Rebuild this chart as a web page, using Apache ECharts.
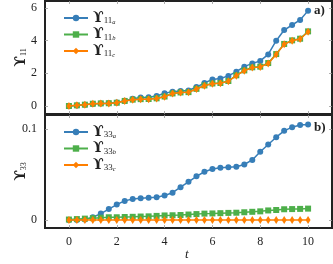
<!DOCTYPE html>
<html><head><meta charset="utf-8">
<script src="https://cdn.jsdelivr.net/npm/echarts@6/dist/echarts.min.js"></script>
<style>html,body{margin:0;padding:0;background:#fff}#c{width:333px;height:264px}</style>
</head><body><div id="c"></div>
<script>
const tValues = [0,0.333,0.667,1,1.333,1.667,2,2.333,2.667,3,3.333,3.667,4,4.333,4.667,5,5.333,5.667,6,6.333,6.667,7,7.333,7.667,8,8.333,8.667,9,9.333,9.667,10];
const u11a = [0,0.03,0.07,0.13,0.16,0.17,0.21,0.32,0.45,0.52,0.53,0.61,0.78,0.88,0.92,0.95,1.16,1.41,1.63,1.69,1.84,2.10,2.41,2.61,2.76,3.16,4.00,4.65,4.96,5.27,5.84];
const u11b = [0,0.04,0.08,0.14,0.16,0.17,0.20,0.31,0.39,0.42,0.43,0.47,0.58,0.77,0.83,0.85,1.05,1.26,1.38,1.41,1.53,1.88,2.18,2.37,2.41,2.63,3.18,3.80,4.02,4.12,4.57];
const u11c = [0,0.04,0.08,0.14,0.16,0.16,0.20,0.30,0.38,0.42,0.42,0.46,0.57,0.76,0.82,0.84,1.04,1.24,1.37,1.40,1.52,1.86,2.16,2.35,2.39,2.61,3.16,3.78,4.00,4.10,4.55];
const u33a = [0,0,0.0005,0.003,0.007,0.012,0.017,0.021,0.023,0.024,0.0245,0.025,0.027,0.030,0.036,0.042,0.048,0.053,0.056,0.0575,0.058,0.0585,0.061,0.066,0.075,0.083,0.091,0.098,0.102,0.1045,0.105];
const u33b = [0.0005,0.001,0.0015,0.002,0.0025,0.003,0.003,0.0033,0.0035,0.0038,0.004,0.0045,0.005,0.0052,0.0055,0.006,0.0065,0.007,0.0072,0.0075,0.0078,0.008,0.0085,0.009,0.0095,0.0105,0.011,0.0118,0.012,0.0122,0.0125];
const u33c = [0,0,0,0,0,0,0,0,0,0,0,0,0,0,0,0,0,0,0,0,0,0,0,0,0,0,0,0,0,0,0];
const xTicks = [0,2,4,6,8,10];
const yTicksTop = [0,2,4,6];
const yTicksBottom = [0,0.1];

const BLUE='#377eb8', GREEN='#4daf4a', ORANGE='#ff7f00';
const SERIF='Liberation Serif';
const GREEK='DejaVu Serif';
function pts(arr){return tValues.map((t,i)=>[t,arr[i]]);}
const tick = {show:true,inside:true,length:3,lineStyle:{color:'#999',width:0.8}};
function xAx(grid,pos,labels){
  return {type:'value',gridIndex:grid,position:pos,min:-1,max:11,
    axisLine:{show:false,onZero:false},splitLine:{show:false},
    axisTick:Object.assign({},tick,{customValues:xTicks}),
    axisLabel:{show:labels,customValues:xTicks,fontFamily:SERIF,fontSize:12,color:'#222',margin:8}};
}
function yAx(grid,pos,min,max,ticks,labels,name){
  const a={type:'value',gridIndex:grid,position:pos,min:min,max:max,
    axisLine:{show:false,onZero:false},splitLine:{show:false},
    axisTick:Object.assign({},tick,{customValues:ticks}),
    axisLabel:{show:labels,customValues:ticks,fontFamily:SERIF,fontSize:12,color:'#222',margin:8}};
  if(name){
    a.name=name;a.nameLocation='middle';a.nameGap=17;a.nameRotate=90;a.nameMoveOverlap=false;
    a.nameTextStyle={rich:{u:{fontFamily:GREEK,fontWeight:'bold',fontSize:14,color:'#222'},s:{fontFamily:SERIF,fontSize:8,color:'#222',verticalAlign:'bottom',lineHeight:8}}};
  }
  return a;
}
const rich={u:{fontFamily:GREEK,fontWeight:'bold',fontSize:14,color:'#222',lineHeight:15},
  s:{fontFamily:SERIF,fontSize:9,color:'#222',verticalAlign:'bottom',lineHeight:9},
  ss:{fontFamily:SERIF,fontStyle:'italic',fontSize:6.5,color:'#222',verticalAlign:'bottom',lineHeight:5}};
const labelMap={a11:['11','a'],b11:['11','b'],c11:['11','c'],a33:['33','a'],b33:['33','b'],c33:['33','c']};
function fmt(n){const m=labelMap[n];return '{u|ϒ}{s|'+m[0]+'}{ss|'+m[1]+'}';}
function ser(name,data,xi,yi,color,sym,size,z){
  return {name:name,type:'line',xAxisIndex:xi,yAxisIndex:yi,data:pts(data),color:color,
    symbol:sym,symbolSize:size,showSymbol:true,z:z,animation:false,
    lineStyle:{width:1.5,color:color},itemStyle:{color:color}};
}
const chart=echarts.init(document.getElementById('c'),null,{renderer:'canvas'});
chart.setOption({
  animation:false,
  grid:[
    {left:45,right:1,top:1,height:113,show:true,borderColor:'#222',borderWidth:2,backgroundColor:'transparent',containLabel:false,outerBoundsMode:'none'},
    {left:45,right:1,top:115,height:113,show:true,borderColor:'#222',borderWidth:2,backgroundColor:'transparent',containLabel:false,outerBoundsMode:'none'}
  ],
  xAxis:[xAx(0,'bottom',false),xAx(0,'top',false),xAx(1,'bottom',true),xAx(1,'top',false)],
  yAxis:[
    yAx(0,'left',-0.49,6.43,yTicksTop,true,'{u|ϒ}{s|11}'),
    yAx(0,'right',-0.49,6.43,yTicksTop,false),
    yAx(1,'left',-0.0088,0.1154,yTicksBottom,true,'{u|ϒ}{s|33}'),
    yAx(1,'right',-0.0088,0.1154,yTicksBottom,false)
  ],
  legend:[
    {data:['a11','b11','c11'],orient:'vertical',left:58,top:6,itemGap:2,itemWidth:24,itemHeight:8,formatter:fmt,textStyle:{rich:rich}},
    {data:['a33','b33','c33'],orient:'vertical',left:58,top:120,itemGap:2,itemWidth:24,itemHeight:8,formatter:fmt,textStyle:{rich:rich}}
  ],
  series:[
    ser('a11',u11a,0,0,BLUE,'circle',6,3),
    ser('b11',u11b,0,0,GREEN,'rect',6,4),
    ser('c11',u11c,0,0,ORANGE,'diamond',[5,8],5),
    ser('a33',u33a,2,2,BLUE,'circle',6,3),
    ser('b33',u33b,2,2,GREEN,'rect',6,4),
    ser('c33',u33c,2,2,ORANGE,'diamond',[5,8],5)
  ],
  graphic:[
    {type:'text',left:314,top:4,style:{text:'a)',font:'bold 13px '+SERIF,fill:'#222'}},
    {type:'text',left:314,top:121,style:{text:'b)',font:'bold 13px '+SERIF,fill:'#222'}},
    {type:'text',left:185,top:248,style:{text:'t',font:'italic 13px '+SERIF,fill:'#222'}}
  ]
});
</script></body></html>
